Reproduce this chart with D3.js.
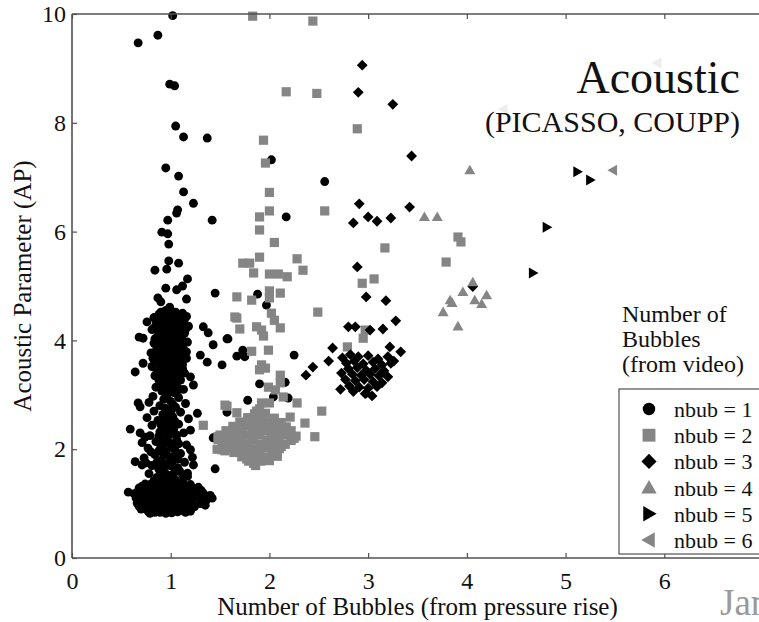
<!DOCTYPE html>
<meta charset="utf-8">
<html>
<body style="margin:0;background:#fff">
<script src="https://cdn.jsdelivr.net/npm/d3@7"></script>
<script>
// values: [bubbles from pressure rise, acoustic parameter]
var nbub1 = [
  [1.02,9.97],[0.87,9.61],[0.67,9.47],[0.99,8.71],[1.04,8.68],[1.05,7.94],[1.13,7.74],[1.37,7.72],
  [0.95,7.17],[1.08,7.02],[1.13,6.73],[1.23,6.52],[1.07,6.40],[1.06,6.34],[0.97,6.21],[1.42,6.21],
  [0.91,5.99],[0.97,5.96],[0.98,5.77],[0.98,5.46],[1.08,5.42],[0.84,5.29],[0.96,5.31],[1.17,5.13],
  [1.12,5.00],[1.06,4.93],[0.95,4.96],[1.45,4.87],[0.87,4.78],[0.90,4.71],[1.16,4.76],[0.99,4.61],
  [2.02,7.32],[2.56,6.92],[2.17,6.27],[1.88,4.85],[1.97,4.65],[1.58,4.03],[1.67,3.71],[1.73,3.82],
  [1.75,3.70],[2.25,3.73],[1.90,3.20],[1.78,2.90],[2.04,2.96],[2.19,2.94],[2.16,3.23],[1.57,2.68],
  [1.45,1.64],[1.43,2.21],
  [0.76,4.34],[0.68,4.06],[0.72,4.04],[0.64,3.42],[0.72,3.58],[1.30,3.73],[1.37,3.60],[1.52,3.55],
  [1.33,4.25],[1.38,4.14],[1.43,3.92],[1.57,4.03],[1.20,3.33],[1.23,3.18],[0.67,2.85],[0.69,2.78],
  [1.27,2.66],[0.59,2.37],[0.69,2.30],[0.74,2.22],[1.20,1.99],[0.64,1.77],[0.71,1.71],[1.23,1.71],
  [1.17,1.56],[0.57,1.21],[1.42,1.10],[1.35,0.97],
  // dense upper column
  [0.95,4.55],[1.05,4.52],[1.12,4.50],[0.88,4.48],[1.00,4.45],[1.16,4.44],[0.83,4.42],[0.93,4.40],
  [1.08,4.40],[0.98,4.35],[1.13,4.33],[0.86,4.32],[1.03,4.30],[0.91,4.27],[1.18,4.26],[0.96,4.22],
  [1.09,4.22],[0.81,4.20],[1.02,4.17],[0.88,4.14],[1.14,4.13],[0.94,4.10],[1.06,4.08],[0.99,4.04],
  [0.84,4.03],[1.11,4.01],[0.90,3.98],[1.17,3.97],[1.02,3.95],[0.95,3.92],[1.08,3.90],[0.86,3.88],
  [0.99,3.86],[1.13,3.84],[0.92,3.80],[1.04,3.79],[0.80,3.77],[0.97,3.74],[1.10,3.73],[0.88,3.71],
  [1.01,3.68],[1.16,3.67],[0.93,3.64],[1.06,3.62],[0.84,3.60],[0.98,3.58],[1.12,3.56],[0.90,3.54],
  [1.03,3.51],[0.95,3.47],[1.08,3.46],[0.86,3.44],[1.00,3.41],[1.14,3.40],[0.92,3.37],[1.05,3.34],
  [0.97,3.30],[0.88,3.27],[1.10,3.27],[1.01,3.23],[0.93,3.19],[1.06,3.17],[0.85,3.14],[0.98,3.12],
  [1.13,3.10],[0.91,3.07],[1.03,3.04],[0.96,3.00],[0.82,2.97],[1.08,2.95],
  [0.90,4.52],[1.01,4.49],[1.09,4.47],[0.97,4.42],[0.85,4.37],[1.05,4.36],[1.14,4.39],[0.92,4.33],
  [1.00,4.29],[1.09,4.30],[0.84,4.25],[1.06,4.18],[0.92,4.19],[1.15,4.20],[0.98,4.13],[0.87,4.08],
  [1.02,4.09],[1.11,4.07],[0.94,4.02],[1.07,3.99],[0.97,3.96],[0.83,3.95],[1.12,3.93],[0.89,3.91],
  [1.03,3.86],[0.95,3.84],[1.08,3.82],[0.85,3.80],[1.16,3.79],[0.99,3.77],[0.91,3.72],[1.05,3.71],
  [0.82,3.67],[0.96,3.67],[1.11,3.64],[0.89,3.61],[1.02,3.59],[0.94,3.55],[1.07,3.53],[0.81,3.52],
  [0.98,3.49],[1.12,3.48],[0.90,3.44],[1.04,3.42],[0.95,3.38],[1.09,3.36],[0.84,3.35],[1.00,3.32],
  [0.92,3.27],[1.06,3.25],[0.97,3.21],[0.89,3.17],[1.02,3.14],[1.09,3.10],[0.94,3.11],[0.99,3.06],
  // middle of the column
  [0.93,2.92],[1.00,2.88],[0.78,2.86],[1.15,2.84],[0.89,2.80],[1.05,2.77],[0.97,2.72],[0.83,2.70],
  [1.10,2.68],[0.92,2.64],[1.02,2.60],[0.76,2.58],[1.18,2.56],[0.87,2.53],[0.98,2.50],[1.08,2.46],
  [0.81,2.44],[0.94,2.40],[1.03,2.36],[0.89,2.32],[1.13,2.30],[0.99,2.27],[0.79,2.25],[0.92,2.20],
  [1.06,2.18],[0.85,2.14],[1.00,2.10],[1.16,2.08],[0.90,2.05],[0.77,2.02],[1.04,2.00],[0.95,1.96],
  [1.10,1.92],[0.84,1.90],[0.99,1.86],[0.73,1.84],[1.07,1.82],[0.90,1.79],[1.14,1.76],[0.96,1.73],
  [0.81,1.70],[1.03,1.67],[0.88,1.63],[1.09,1.60],[0.94,1.57],[0.78,1.55],[1.01,1.52],[1.17,1.50],
  [0.86,1.48],
  [0.96,2.95],[1.02,2.83],[0.94,2.76],[1.00,2.68],[0.95,2.56],[1.04,2.52],[0.90,2.45],[1.00,2.42],
  [0.96,2.33],[1.06,2.26],[0.88,2.24],[0.97,2.15],[1.08,2.10],[0.93,2.09],[1.01,2.03],[0.88,1.97],
  [1.05,1.92],[0.93,1.88],[1.02,1.80],[0.86,1.76],[0.99,1.70],[1.07,1.66],[0.92,1.66],[1.04,1.58],
  [0.97,1.52],[0.90,1.55],[1.12,1.53],[0.75,1.75],[0.71,2.12],[1.20,2.35],[1.22,1.85],[0.80,1.95],
  // dense lower block
  [0.95,1.45],[1.05,1.43],[0.83,1.42],[1.12,1.40],[0.90,1.38],[1.00,1.37],[0.74,1.36],[1.20,1.35],
  [0.86,1.33],[1.08,1.33],[0.96,1.31],[1.28,1.30],[0.68,1.29],[0.80,1.28],[1.15,1.28],[1.02,1.26],
  [0.91,1.25],[1.24,1.24],[0.75,1.23],[1.10,1.22],[0.85,1.21],[0.97,1.20],[1.33,1.19],[0.63,1.18],
  [1.18,1.18],[1.04,1.16],[0.79,1.15],[0.92,1.14],[1.27,1.13],[0.70,1.12],[1.12,1.12],[0.86,1.10],
  [1.00,1.09],[1.21,1.08],[0.76,1.07],[1.36,1.06],[0.94,1.05],[1.07,1.04],[0.82,1.03],[1.16,1.02],
  [0.66,1.01],[1.30,1.00],[0.89,0.99],[1.02,0.98],[0.73,0.97],[1.11,0.96],[0.97,0.95],[1.24,0.94],
  [0.80,0.93],[0.91,0.92],[1.05,0.91],[1.17,0.90],[0.70,0.90],[0.86,0.88],[0.99,0.87],[1.12,0.87],
  [0.77,0.86],[0.93,0.85],[1.07,0.85],[1.20,0.86],[0.84,0.84],[1.01,0.83],[0.95,0.82],[1.40,1.15],
  [0.89,1.41],[1.00,1.42],[1.09,1.38],[0.79,1.35],[0.94,1.34],[1.14,1.33],[1.03,1.31],[0.71,1.32],
  [0.88,1.29],[1.22,1.29],[0.98,1.26],[1.08,1.25],[0.81,1.24],[1.31,1.24],[0.67,1.23],[0.93,1.21],
  [1.15,1.21],[1.03,1.20],[0.73,1.18],[0.87,1.17],[1.23,1.17],[0.98,1.15],[1.09,1.15],[0.82,1.12],
  [0.65,1.10],[1.17,1.10],[0.93,1.09],[1.04,1.10],[1.30,1.09],[0.74,1.04],[0.88,1.04],[1.12,1.05],
  [1.00,1.03],[1.22,1.02],[0.79,1.00],[0.95,1.00],[1.07,0.99],[1.18,0.97],[0.86,0.96],[0.68,0.95],
  [1.01,0.93],[1.13,0.93],[0.76,0.91],[0.94,0.89],[1.08,0.89],[0.89,0.84],[1.15,0.84],[0.79,0.82]
];

var nbub2 = [
  [1.83,9.96],[2.44,9.87],[2.17,8.57],[2.48,8.54],[1.94,7.68],[1.96,7.26],[2.00,6.72],[2.00,6.38],
  [1.90,6.27],[1.90,6.03],[2.05,5.80],[2.56,6.38],[2.89,7.89],[3.17,5.70],[2.34,5.29],[2.94,5.05],
  [3.06,5.13],[2.49,4.52],[2.97,4.19],[2.95,4.04],[2.79,3.88],[3.91,5.90],[3.94,5.81],[3.79,5.44],
  [1.90,5.53],[1.73,5.42],[1.80,5.42],[1.84,5.24],[2.28,5.50],[2.00,5.22],[2.09,5.22],[2.18,5.17],
  [2.00,4.91],[2.11,4.87],[1.67,4.80],[1.82,4.74],[2.00,4.78],[1.65,4.43],[1.67,4.41],[2.02,4.50],
  [2.05,4.37],[2.11,4.23],[1.70,4.21],[1.87,4.25],[1.92,4.19],[1.94,4.08],[1.82,3.80],[1.99,3.82],
  [1.92,3.55],[1.96,3.49],[1.90,3.46],[2.11,3.36],[2.11,3.22],[1.99,3.14],[2.06,3.09],[2.14,2.96],
  [1.92,2.85],[2.00,2.85],[1.57,2.79],[1.67,2.67],[2.28,2.85],[2.21,2.59],[2.36,2.48],[2.53,2.70],
  [2.46,2.23],[1.33,2.44],[1.50,2.21],[1.55,2.81],[1.48,2.23],[1.52,1.99],
  // main blob
  [1.90,2.74],[1.85,2.65],[1.96,2.66],[1.78,2.58],[1.92,2.58],[2.05,2.57],[1.70,2.50],[1.84,2.50],
  [1.98,2.50],[2.12,2.49],[1.63,2.42],[1.77,2.43],[1.90,2.42],[2.03,2.42],[2.17,2.41],[1.56,2.34],
  [1.70,2.35],[1.83,2.34],[1.96,2.34],[2.09,2.33],[2.22,2.34],[1.50,2.26],[1.64,2.27],[1.77,2.26],
  [1.90,2.26],[2.02,2.25],[2.15,2.26],[2.27,2.24],[1.48,2.18],[1.58,2.18],[1.71,2.19],[1.84,2.18],
  [1.97,2.17],[2.09,2.18],[2.22,2.16],[1.52,2.10],[1.65,2.10],[1.78,2.10],[1.91,2.09],[2.04,2.10],
  [2.16,2.09],[1.47,2.00],[1.58,2.02],[1.71,2.02],[1.85,2.01],[1.98,2.02],[2.10,2.01],[1.64,1.94],
  [1.77,1.93],[1.90,1.94],[2.03,1.93],[1.72,1.86],[1.85,1.86],[1.97,1.85],[2.08,1.87],[1.79,1.78],
  [1.91,1.78],[2.00,1.79],[1.86,1.70],
  [1.87,2.70],[1.93,2.62],[1.80,2.54],[2.00,2.46],[1.73,2.39],[1.86,2.38],[2.13,2.37],[1.60,2.30],
  [2.06,2.29],[2.20,2.29],[1.54,2.22],[1.67,2.22],[2.25,2.20],[1.60,2.06],[1.74,2.06],[2.00,2.06],
  [2.12,2.05],[1.55,1.97],[1.69,1.97],[1.82,1.96],[2.08,1.95],[1.77,1.82],[1.93,1.82],[1.84,1.74]
];

var nbub3 = [
  [2.94,9.06],[2.90,8.56],[3.25,8.34],[3.44,7.39],[2.91,6.51],[3.42,6.45],[3.00,6.27],[3.09,6.19],
  [2.85,6.16],[3.23,6.25],[2.89,5.35],[2.98,4.80],[3.18,4.73],[3.28,4.36],[2.80,4.25],[2.87,4.25],
  [3.02,4.19],[3.15,4.21],[2.64,3.86],[3.33,3.79],[2.60,3.62],[2.44,3.51],[2.37,3.36],[4.06,4.99],
  [3.22,3.88],[3.26,3.62],[2.72,3.10],[2.98,3.03],
  [2.74,3.68],[2.82,3.74],[2.90,3.70],[3.00,3.72],[3.10,3.66],[3.20,3.70],[2.78,3.58],[2.86,3.62],
  [2.95,3.57],[3.05,3.60],[3.14,3.55],[3.23,3.58],[2.80,3.48],[2.89,3.50],[2.98,3.45],[3.07,3.48],
  [3.16,3.44],[2.73,3.40],[2.84,3.38],[2.93,3.36],[3.02,3.38],[3.11,3.35],[3.20,3.33],[2.77,3.28],
  [2.87,3.26],[2.96,3.28],[3.05,3.24],[3.14,3.22],[2.81,3.16],[2.91,3.14],[3.00,3.12],[3.09,3.15],
  [2.85,3.06],[2.97,3.02],[3.04,2.98]
];

var nbub4 = [
  [4.03,7.13],[3.57,6.27],[3.70,6.27],[4.06,5.07],[3.96,4.89],[4.20,4.83],[4.08,4.74],[4.15,4.67],
  [3.83,4.74],[3.85,4.69],[3.76,4.52],[3.91,4.26]
];

var nbub5 = [[5.12,7.10],[5.25,6.95],[4.81,6.08],[4.67,5.24]];

var nbub6 = [[5.48,7.13],[5.93,9.10],[4.37,8.25]];

var xTicks = [0, 1, 2, 3, 4, 5, 6, 7];
var xLabels = [0, 1, 2, 3, 4, 5, 6];
var yTicks = [0, 2, 4, 6, 8, 10];
var legendLabels = ["nbub = 1", "nbub = 2", "nbub = 3", "nbub = 4", "nbub = 5", "nbub = 6"];

var black = "#000", gray = "#858585";
var serif = "'Liberation Serif', 'Times New Roman', serif";

var width = 759, height = 622;
var svg = d3.select("body").append("svg")
    .attr("width", width).attr("height", height)
    .style("display", "block");

var x = d3.scaleLinear().domain([0, 7]).range([72, 763]);
var y = d3.scaleLinear().domain([0, 10]).range([558, 14]);

// marker shapes, s = scale factor
function shape(kind, s) {
  switch (kind) {
    case "circle": return d3.symbol(d3.symbolCircle, 62 * s * s)();
    case "square": var h = 4.6 * s; return "M" + -h + "," + -h + "H" + h + "V" + h + "H" + -h + "Z";
    case "diamond": var d = 5.4 * s; return "M0," + -d + "L" + d + ",0L0," + d + "L" + -d + ",0Z";
    case "up": var a = 5.5 * s; return "M0," + (-a) + "L" + a + "," + (a * 0.75) + "L" + (-a) + "," + (a * 0.75) + "Z";
    case "right": var b = 5.5 * s; return "M" + b + ",0L" + (-b * 0.75) + "," + (-b) + "L" + (-b * 0.75) + "," + b + "Z";
    case "left": var c = 5.5 * s; return "M" + (-c) + ",0L" + (c * 0.75) + "," + (-c) + "L" + (c * 0.75) + "," + c + "Z";
  }
}

var series = [
  {data: nbub1, kind: "circle", color: black},
  {data: nbub2, kind: "square", color: gray},
  {data: nbub3, kind: "diamond", color: black},
  {data: nbub4, kind: "up", color: gray},
  {data: nbub5, kind: "right", color: black},
  {data: nbub6, kind: "left", color: gray}
];

var plot = svg.append("g");
series.forEach(function (s) {
  plot.append("g").selectAll("path")
      .data(s.data)
      .enter().append("path")
      .attr("transform", function (d) { return "translate(" + x(d[0]) + "," + y(d[1]) + ")"; })
      .attr("d", shape(s.kind, 1))
      .style("fill", s.color);
});

// frame
var frame = svg.append("g").style("stroke", "#505050").style("stroke-width", 1.6).style("fill", "none");
frame.append("line").attr("x1", x(0)).attr("x2", width).attr("y1", y(10)).attr("y2", y(10));
frame.append("line").attr("x1", x(0)).attr("x2", width).attr("y1", y(0)).attr("y2", y(0));
frame.append("line").attr("x1", x(0)).attr("x2", x(0)).attr("y1", y(10)).attr("y2", y(0));

function styleAxis(g) {
  g.select(".domain").remove();
  g.selectAll(".tick line").style("stroke", "#505050").style("stroke-width", 1.2);
  g.selectAll(".tick text").style("font-family", serif).style("font-size", "24px").style("fill", "#111");
}

svg.append("g").attr("transform", "translate(0," + y(0) + ")")
    .call(d3.axisBottom(x).tickValues(xTicks).tickFormat(function (d) { return xLabels.indexOf(d) >= 0 ? d : ""; })
      .tickSize(-5).tickPadding(14))
    .call(styleAxis);
svg.append("g").attr("transform", "translate(0," + y(10) + ")")
    .call(d3.axisTop(x).tickValues(xTicks).tickFormat("").tickSize(-5))
    .call(styleAxis);
svg.append("g").attr("transform", "translate(" + x(0) + ",0)")
    .call(d3.axisLeft(y).tickValues(yTicks).tickFormat(d3.format("d")).tickSize(-5).tickPadding(6))
    .call(styleAxis);

// axis titles
svg.append("text")
    .attr("x", (x(0) + x(7)) / 2).attr("y", 615)
    .attr("text-anchor", "middle")
    .style("font-family", serif).style("font-size", "25px").style("fill", "#111")
    .text("Number of Bubbles (from pressure rise)");
svg.append("text")
    .attr("transform", "translate(31," + (y(0) + y(10)) / 2 + ") rotate(-90)")
    .attr("text-anchor", "middle")
    .style("font-family", serif).style("font-size", "25px").style("fill", "#111")
    .text("Acoustic Parameter (AP)");

// overlay title, its white box fades the marks underneath
svg.append("rect").attr("x", 470).attr("y", 45).attr("width", 289).attr("height", 100)
    .style("fill", "#fff").style("opacity", 0.85);
svg.append("text").attr("x", 740).attr("y", 93).attr("text-anchor", "end")
    .style("font-family", serif).style("font-size", "46px").style("fill", "#111")
    .text("Acoustic");
svg.append("text").attr("x", 740).attr("y", 132).attr("text-anchor", "end")
    .style("font-family", serif).style("font-size", "30px").style("fill", "#111")
    .text("(PICASSO, COUPP)");

// legend
svg.selectAll("text.legtitle")
    .data(["Number of", "Bubbles", "(from video)"])
    .enter().append("text")
    .attr("x", 622)
    .attr("y", function (d, i) { return 322 + i * 25; })
    .style("font-family", serif).style("font-size", "24px").style("fill", "#111")
    .text(function (d) { return d; });

svg.append("rect").attr("x", 619).attr("y", 389).attr("width", 170).attr("height", 165)
    .style("fill", "#fff").style("stroke", "#505050").style("stroke-width", 1.2);

var leg = svg.append("g").selectAll("g")
    .data(series)
    .enter().append("g")
    .attr("transform", function (d, i) { return "translate(0," + (409 + i * 26.2) + ")"; });
leg.append("path")
    .attr("transform", "translate(649,0)")
    .attr("d", function (d) { return shape(d.kind, 1.4); })
    .style("fill", function (d) { return d.color; });
leg.append("text")
    .attr("x", 674).attr("y", 8)
    .style("font-family", serif).style("font-size", "22px").style("fill", "#111")
    .text(function (d, i) { return legendLabels[i]; });

// slide footer remnant, cut by the right edge as in the source
svg.append("text").attr("x", 720).attr("y", 615)
    .style("font-family", serif).style("font-size", "37px").style("fill", "#9a9a9a")
    .text("Jan");
</script>
</body>
</html>
